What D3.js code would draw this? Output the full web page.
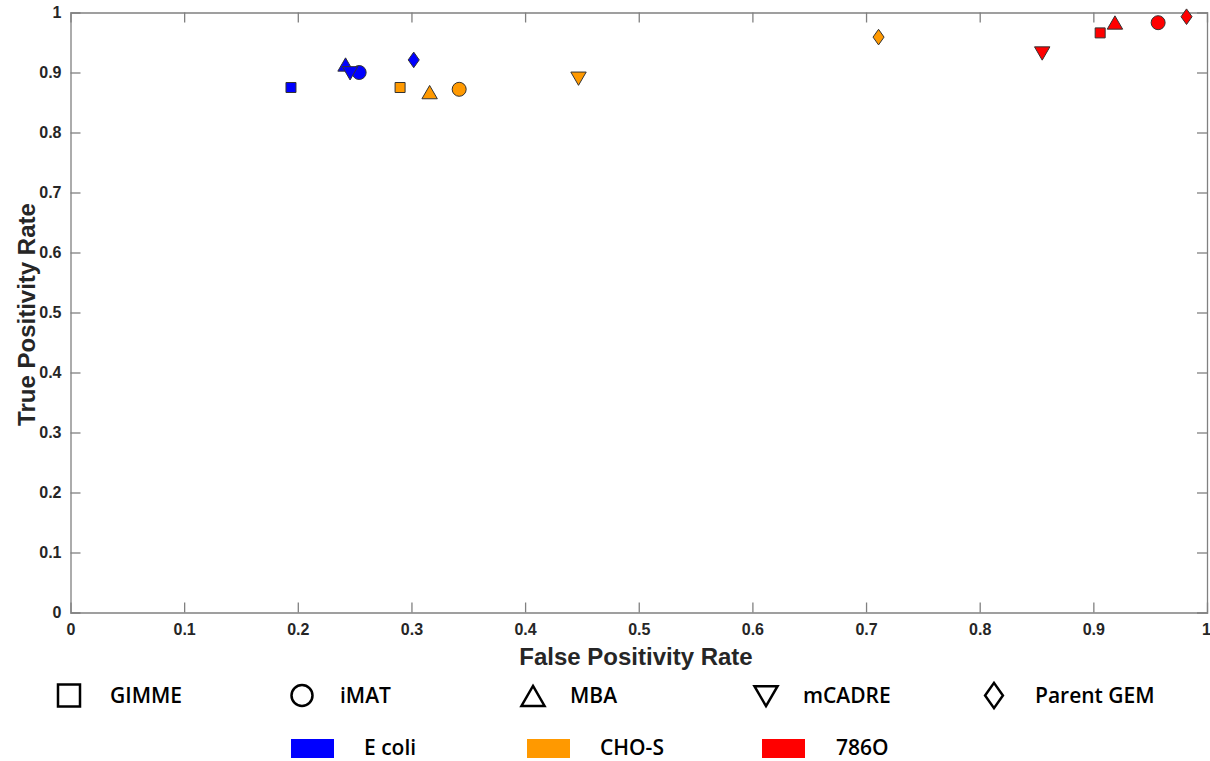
<!DOCTYPE html>
<html>
<head>
<meta charset="utf-8">
<script src="https://cdn.jsdelivr.net/npm/d3@7"></script>
<style>
  body { margin: 0; background: #fff; }
  svg { display: block; }
  .tick text { font-family: "Liberation Sans", Arial, sans-serif; font-weight: bold; font-size: 16px; fill: #262626; }
  .axis-label { font-family: "Liberation Sans", Arial, sans-serif; font-weight: bold; font-size: 24px; fill: #262626; }
  .legend text { font-family: "Open Sans", sans-serif; font-weight: 600; font-size: 21px; fill: #000; }
</style>
</head>
<body>
<svg id="chart"></svg>
<script>
// methods (marker shapes) and cell lines (colours)
const methods = ["GIMME", "iMAT", "MBA", "mCADRE", "Parent GEM"];
const cellLines = ["E coli", "CHO-S", "786O"];
const cellColors = ["#0000ff", "#ff9900", "#ff0000"];

// false / true positivity rate per method, one array per cell line
const fprEcoli = [0.194, 0.254, 0.242, 0.246, 0.302];
const tprEcoli = [0.875, 0.900, 0.911, 0.901, 0.921];
const fprCHO = [0.290, 0.342, 0.316, 0.447, 0.711];
const tprCHO = [0.875, 0.872, 0.865, 0.892, 0.959];
const fpr786 = [0.906, 0.957, 0.919, 0.855, 0.982];
const tpr786 = [0.966, 0.983, 0.981, 0.934, 0.993];

const xTicks = [0, 0.1, 0.2, 0.3, 0.4, 0.5, 0.6, 0.7, 0.8, 0.9, 1];
const yTicks = [0, 0.1, 0.2, 0.3, 0.4, 0.5, 0.6, 0.7, 0.8, 0.9, 1];

const points = [];
[[fprEcoli, tprEcoli], [fprCHO, tprCHO], [fpr786, tpr786]].forEach((pair, ci) => {
  methods.forEach((m, mi) => {
    points.push({ method: mi, cell: ci, x: pair[0][mi], y: pair[1][mi] });
  });
});

const width = 1210, height = 761;
const plotLeft = 70.5, plotRight = 1207, plotTop = 12.5, plotBottom = 612.5;

const svg = d3.select("#chart").attr("width", width).attr("height", height);

const xScale = d3.scaleLinear().domain([0, 1]).range([plotLeft, plotRight]);
const yScale = d3.scaleLinear().domain([0, 1]).range([plotBottom, plotTop]);

// marker shape for each method
function markerPath(mi, s) {
  if (mi === 0) return `M${-s},${-s}H${s}V${s}H${-s}Z`;
  if (mi === 1) return d3.symbol(d3.symbolCircle, Math.PI * s * s)();
  if (mi === 2) return `M0,${-s * 1.15}L${s * 1.1},${s * 0.75}L${-s * 1.1},${s * 0.75}Z`;
  if (mi === 3) return `M0,${s * 1.15}L${s * 1.1},${-s * 0.75}L${-s * 1.1},${-s * 0.75}Z`;
  return `M0,${-s * 1.2}L${s * 0.85},0L0,${s * 1.2}L${-s * 0.85},0Z`;
}
const markerSize = [5, 7, 7, 7, 6.5];

// axes
const xAxis = d3.axisBottom(xScale).tickValues(xTicks).tickFormat(d3.format("~g")).tickSize(-10).tickPadding(8);
const yAxis = d3.axisLeft(yScale).tickValues(yTicks).tickFormat(d3.format("~g")).tickSize(-10).tickPadding(9);

const gx = svg.append("g").attr("transform", `translate(0,${plotBottom})`).call(xAxis);
const gy = svg.append("g").attr("transform", `translate(${plotLeft},0)`).call(yAxis);
svg.append("g").attr("transform", `translate(0,${plotTop})`)
  .call(d3.axisTop(xScale).tickValues(xTicks).tickFormat("").tickSize(-10));
svg.append("g").attr("transform", `translate(${plotRight},0)`)
  .call(d3.axisRight(yScale).tickValues(yTicks).tickFormat("").tickSize(-10));

svg.selectAll(".domain").attr("stroke", "#808080").attr("stroke-width", 1.3);
svg.selectAll(".tick line").attr("stroke", "#808080").attr("stroke-width", 1.3);
svg.selectAll(".tick line").filter(d => d === 0 || d === 1).attr("opacity", 0);
gx.selectAll(".tick text").attr("dy", "0.9em");
gx.selectAll(".tick text").filter(d => d === 1).attr("dx", -1);

// axis labels
svg.append("text").attr("class", "axis-label")
  .attr("x", 636).attr("y", 665).attr("text-anchor", "middle")
  .text("False Positivity Rate");
svg.append("text").attr("class", "axis-label")
  .attr("transform", `translate(35,${(plotTop + plotBottom) / 2 + 2}) rotate(-90)`)
  .attr("text-anchor", "middle").text("True Positivity Rate");

// points
svg.append("g").selectAll("path")
  .data(points)
  .join("path")
  .attr("transform", d => `translate(${xScale(d.x)},${yScale(d.y)})`)
  .attr("d", d => markerPath(d.method, markerSize[d.method]))
  .attr("fill", d => cellColors[d.cell])
  .attr("stroke", "#333")
  .attr("stroke-width", 1);

// legend: methods
const legend = svg.append("g").attr("class", "legend");
const methodX = [69, 302, 533, 766, 994];
const methodTextX = [110, 340, 570, 803, 1035];
const mg = legend.selectAll("g.m").data(methods).join("g").attr("class", "m");
mg.append("path")
  .attr("transform", (d, i) => `translate(${methodX[i]},${i === 2 ? 698 : i === 3 ? 694 : 695.5})`)
  .attr("d", (d, i) => markerPath(i, i === 0 ? 11 : 10.5))
  .attr("fill", "none").attr("stroke", "#000").attr("stroke-width", 2.5);
mg.append("text")
  .attr("x", (d, i) => methodTextX[i]).attr("y", 703)
  .text(d => d);

// legend: cell lines
const cellX = [291, 527, 762];
const cellTextX = [364, 600, 836];
const cg = legend.selectAll("g.c").data(cellLines).join("g").attr("class", "c");
cg.append("rect")
  .attr("x", (d, i) => cellX[i]).attr("y", 739)
  .attr("width", 43).attr("height", 19)
  .attr("fill", (d, i) => cellColors[i]);
cg.append("text")
  .attr("x", (d, i) => cellTextX[i]).attr("y", 755)
  .text(d => d);
</script>
</body>
</html>
